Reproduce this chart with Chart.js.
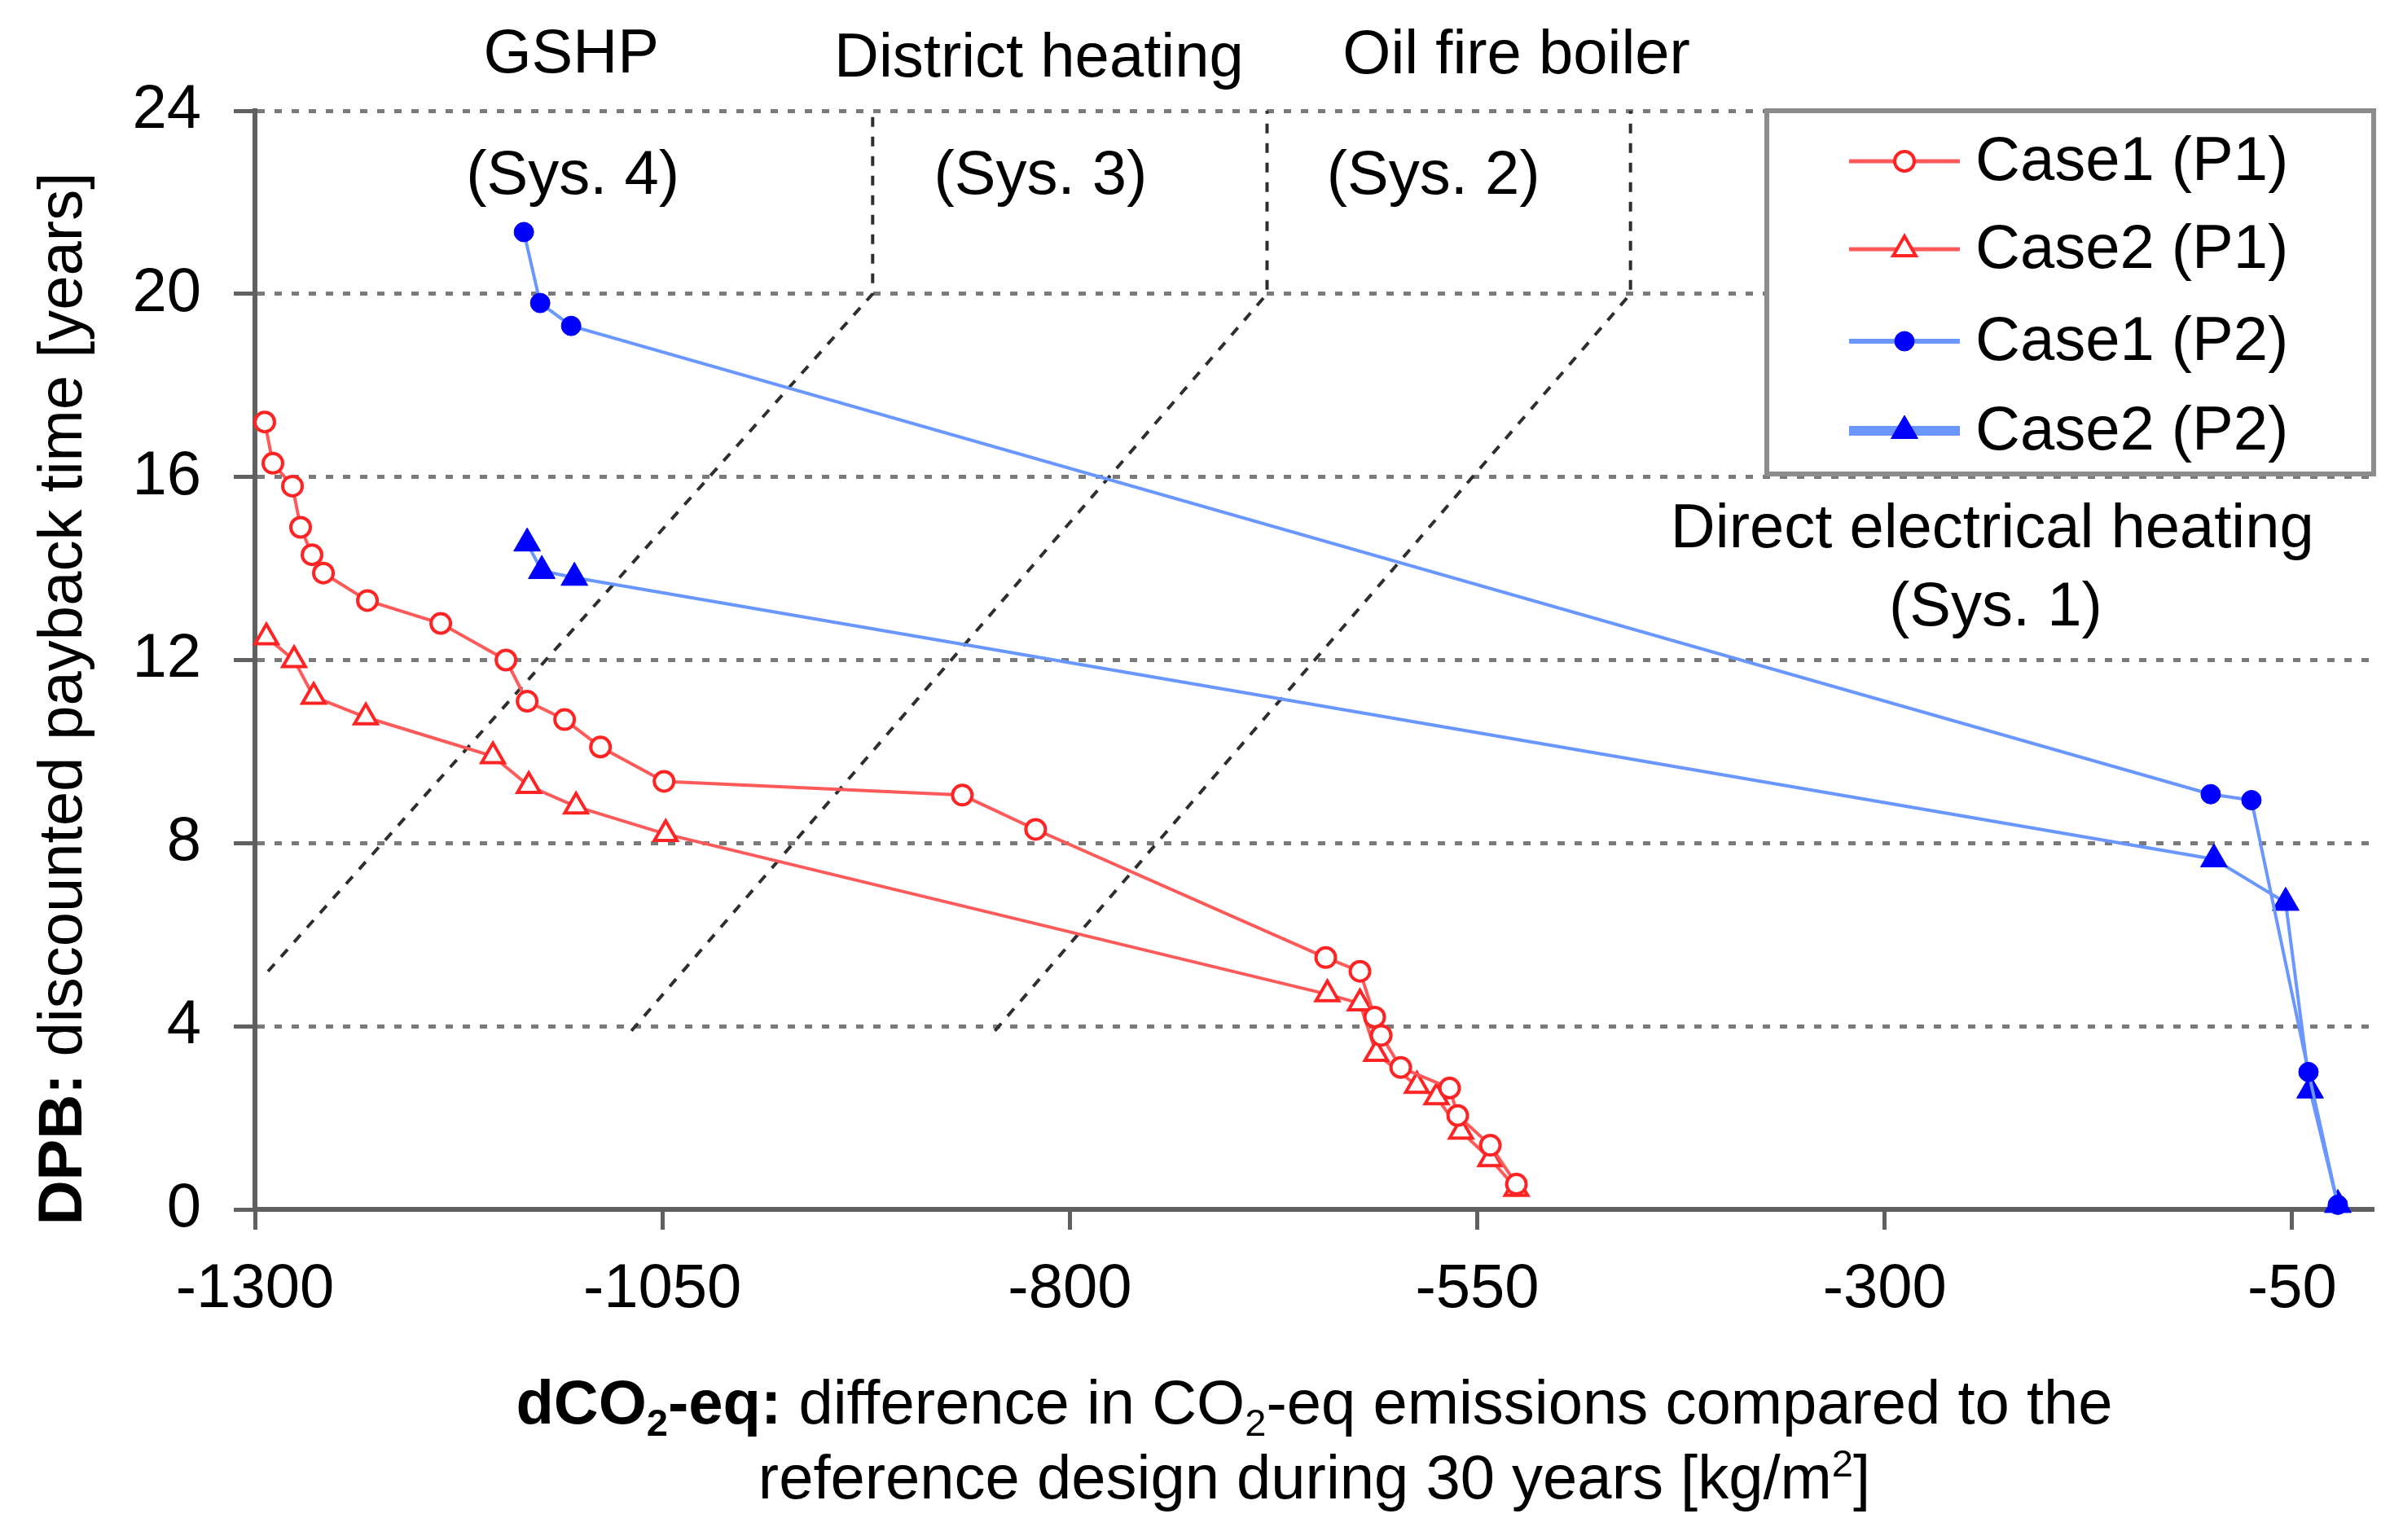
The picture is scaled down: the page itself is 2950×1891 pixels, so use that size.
<!DOCTYPE html>
<html>
<head>
<meta charset="utf-8">
<title>DPB vs dCO2-eq</title>
<script src="https://cdn.jsdelivr.net/npm/chart.js@4.4.1/dist/chart.umd.min.js"></script>
<style>
  html, body { margin: 0; padding: 0; background: #fff; }
  canvas { display: block; }
</style>
</head>
<body>
<canvas id="chart" width="2950" height="1891"></canvas>
<script>
// --- tick labels
const xTicks = [-1300, -1050, -800, -550, -300, -50];
const yTicks = [0, 4, 8, 12, 16, 20, 24];

// --- series
const case1P1X = [-1294, -1289, -1277, -1272, -1265, -1258, -1231, -1186, -1146, -1133, -1110, -1088, -1049, -866, -821, -643, -622, -613, -609, -597, -567, -562, -542, -526];
const case1P1Y = [17.2, 16.3, 15.8, 14.9, 14.3, 13.9, 13.3, 12.8, 12.0, 11.1, 10.7, 10.1, 9.35, 9.05, 8.3, 5.5, 5.2, 4.2, 3.8, 3.1, 2.65, 2.05, 1.4, 0.55];

const case2P1X = [-1293, -1276, -1264, -1232, -1154, -1132, -1103, -1048, -642, -622, -612, -587, -575, -560, -542, -526];
const case2P1Y = [12.5, 12.0, 11.2, 10.75, 9.9, 9.25, 8.8, 8.2, 4.7, 4.5, 3.4, 2.7, 2.45, 1.7, 1.1, 0.45];

const case1P2X = [-1135, -1125, -1106, -100, -75, -40, -22];
const case1P2Y = [21.35, 19.8, 19.3, 9.07, 8.94, 3.0, 0.1];

const case2P2X = [-1133, -1124, -1104, -98, -54, -39, -22];
const case2P2Y = [14.55, 13.95, 13.8, 7.65, 6.7, 2.6, 0.1];

// --- system boundaries (dashed)
const sys4X = [-1292, -921, -921];
const sys4Y = [5.2, 20, 24];
const sys3X = [-1069, -679, -679];
const sys3Y = [3.9, 20, 24];
const sys2X = [-846, -456, -456];
const sys2Y = [3.9, 20, 24];

// --- texts
const seriesNames = ['Case1 (P1)', 'Case2 (P1)', 'Case1 (P2)', 'Case2 (P2)'];
const systemNames = ['GSHP', 'District heating', 'Oil fire boiler', 'Direct electrical heating'];
const systemTags = ['(Sys. 4)', '(Sys. 3)', '(Sys. 2)', '(Sys. 1)'];

const FONT = '"Liberation Sans", Arial, sans-serif';
const FS = 76;

function pts(xs, ys) {
    return xs.map((x, i) => ({ x: x, y: ys[i] }));
}

const RED_LINE = 'rgb(255, 90, 90)';
const RED_MARK = 'rgb(255, 35, 35)';
const BLUE_LINE = 'rgb(105, 150, 255)';
const BLUE_MARK = 'rgb(0, 0, 255)';

function sysLine(xs, ys) {
    return {
        data: pts(xs, ys),
        borderColor: '#2e2e2e',
        borderWidth: 4,
        borderDash: [12, 12],
        pointRadius: 0,
        tension: 0,
        isSys: true
    };
}

// rich text: segments {t, b (bold), sub, sup}
function drawRich(ctx, segs, cx, baseY, size) {
    const parts = segs.map(s => {
        const sz = (s.sub || s.sup) ? size * 0.62 : size;
        const f = (s.b ? 'bold ' : '') + sz + 'px ' + FONT;
        ctx.font = f;
        return { s: s, f: f, w: ctx.measureText(s.t).width };
    });
    const total = parts.reduce((a, p) => a + p.w, 0);
    let x = cx - total / 2;
    ctx.textAlign = 'left';
    ctx.textBaseline = 'alphabetic';
    parts.forEach(p => {
        ctx.font = p.f;
        const dy = p.s.sub ? size * 0.2 : (p.s.sup ? -size * 0.36 : 0);
        ctx.fillText(p.s.t, x, baseY + dy);
        x += p.w;
    });
}

const annotations = {
    id: 'annotations',
    afterDraw(chart) {
        const ctx = chart.ctx;
        const xs = chart.scales.x;
        const ys = chart.scales.y;
        const area = chart.chartArea;
        ctx.save();
        ctx.fillStyle = '#000';

        // system labels
        ctx.font = FS + 'px ' + FONT;
        ctx.textAlign = 'center';
        ctx.textBaseline = 'middle';
        ctx.fillText(systemNames[0], xs.getPixelForValue(-1106), area.top - 68);
        ctx.fillText(systemNames[1], xs.getPixelForValue(-819), area.top - 63);
        ctx.fillText(systemNames[2], xs.getPixelForValue(-526), area.top - 67);
        ctx.fillText(systemNames[3], xs.getPixelForValue(-234), ys.getPixelForValue(14.84));
        ctx.fillText(systemTags[0], xs.getPixelForValue(-1105), ys.getPixelForValue(22.55));
        ctx.fillText(systemTags[1], xs.getPixelForValue(-818), ys.getPixelForValue(22.55));
        ctx.fillText(systemTags[2], xs.getPixelForValue(-577), ys.getPixelForValue(22.55));
        ctx.fillText(systemTags[3], xs.getPixelForValue(-232), ys.getPixelForValue(13.13));

        // legend box
        const lx = 2169, ly = area.top, lw = area.right - 2169, lh = 446;
        ctx.fillStyle = '#fff';
        ctx.fillRect(lx, ly, lw, lh);
        ctx.strokeStyle = '#8c8c8c';
        ctx.lineWidth = 6;
        ctx.strokeRect(lx, ly, lw, lh);
        const rows = [ly + 62, ly + 170, ly + 283, ly + 393];
        chart.data.datasets.forEach((ds, i) => {
            if (ds.isSys) return;
            const y = rows[i];
            ctx.strokeStyle = ds.borderColor;
            ctx.lineWidth = ds.legendLine;
            ctx.setLineDash([]);
            ctx.beginPath();
            ctx.moveTo(lx + 101, y);
            ctx.lineTo(lx + 237, y);
            ctx.stroke();
            ctx.fillStyle = ds.pointBackgroundColor;
            ctx.strokeStyle = ds.pointBorderColor;
            ctx.lineWidth = ds.pointBorderWidth;
            Chart.helpers.drawPoint(ctx, {
                pointStyle: ds.pointStyle,
                radius: ds.pointRadius,
                rotation: 0,
                borderWidth: ds.pointBorderWidth
            }, lx + 169, y);
            ctx.fillStyle = '#000';
            ctx.font = FS + 'px ' + FONT;
            ctx.textAlign = 'left';
            ctx.textBaseline = 'middle';
            ctx.fillText(seriesNames[i], lx + 256, y + 2);
        });

        // x axis title
        ctx.fillStyle = '#000';
        const cx = (area.left + area.right) / 2;
        drawRich(ctx, [
            { t: 'dCO', b: true }, { t: '2', b: true, sub: true }, { t: '-eq:', b: true },
            { t: ' difference in CO' }, { t: '2', sub: true }, { t: '-eq emissions compared to the' }
        ], cx, 1748, FS);
        drawRich(ctx, [
            { t: 'reference design during 30 years [kg/m' }, { t: '2', sup: true }, { t: ']' }
        ], cx, 1840, FS);

        // y axis title
        ctx.translate(100, 858);
        ctx.rotate(-Math.PI / 2);
        drawRich(ctx, [
            { t: 'DPB:', b: true }, { t: ' discounted payback time [years]' }
        ], 0, 0, FS);
        ctx.restore();
    }
};

const ctx = document.getElementById('chart').getContext('2d');
const chart = new Chart(ctx, {
    type: 'line',
    data: {
        datasets: [
            {
                label: seriesNames[0],
                data: pts(case1P1X, case1P1Y),
                borderColor: RED_LINE,
                borderWidth: 4,
                pointStyle: 'circle',
                pointRadius: 12,
                pointBorderWidth: 4,
                pointBorderColor: RED_MARK,
                pointBackgroundColor: '#fff',
                legendLine: 5,
                tension: 0,
                clip: false
            },
            {
                label: seriesNames[1],
                data: pts(case2P1X, case2P1Y),
                borderColor: RED_LINE,
                borderWidth: 4,
                pointStyle: 'triangle',
                pointRadius: 16,
                pointBorderWidth: 4,
                pointBorderColor: RED_MARK,
                pointBackgroundColor: '#fff',
                legendLine: 5,
                tension: 0,
                clip: false
            },
            {
                label: seriesNames[2],
                data: pts(case1P2X, case1P2Y),
                borderColor: BLUE_LINE,
                borderWidth: 4,
                pointStyle: 'circle',
                pointRadius: 12,
                pointBorderWidth: 1,
                pointBorderColor: BLUE_MARK,
                pointBackgroundColor: BLUE_MARK,
                legendLine: 6,
                tension: 0,
                clip: false
            },
            {
                label: seriesNames[3],
                data: pts(case2P2X, case2P2Y),
                borderColor: BLUE_LINE,
                borderWidth: 4,
                pointStyle: 'triangle',
                pointRadius: 19,
                pointBorderWidth: 1,
                pointBorderColor: BLUE_MARK,
                pointBackgroundColor: BLUE_MARK,
                legendLine: 12,
                tension: 0,
                clip: false
            },
            sysLine(sys4X, sys4Y),
            sysLine(sys3X, sys3Y),
            sysLine(sys2X, sys2Y)
        ]
    },
    options: {
        responsive: false,
        animation: false,
        devicePixelRatio: 1,
        layout: {
            padding: { left: 0, top: 136, right: 36, bottom: 256 }
        },
        plugins: {
            legend: { display: false },
            tooltip: { enabled: false }
        },
        scales: {
            x: {
                type: 'linear',
                min: -1300,
                max: 0,
                afterBuildTicks: s => { s.ticks = xTicks.map(v => ({ value: v })); },
                afterFit: s => { s.height = 150; },
                border: { color: '#606060', width: 6 },
                grid: {
                    drawOnChartArea: false,
                    drawTicks: true,
                    tickLength: 25,
                    tickColor: '#606060',
                    tickWidth: 5
                },
                ticks: {
                    color: '#000',
                    font: { family: FONT, size: FS },
                    padding: 28,
                    maxRotation: 0,
                    autoSkip: false,
                    callback: v => String(v)
                }
            },
            y: {
                min: 0,
                max: 24,
                afterBuildTicks: s => { s.ticks = yTicks.map(v => ({ value: v })); },
                afterFit: s => { s.width = 313; },
                border: { color: '#606060', width: 6, dash: [9, 12] },
                grid: {
                    color: '#7a7a7a',
                    lineWidth: 5,
                    tickLength: 26,
                    tickColor: '#606060',
                    tickWidth: 5,
                    tickBorderDash: []
                },
                ticks: {
                    color: '#000',
                    font: { family: FONT, size: FS },
                    padding: 40,
                    autoSkip: false,
                    callback: v => String(v)
                }
            }
        }
    },
    plugins: [annotations]
});
</script>
</body>
</html>
